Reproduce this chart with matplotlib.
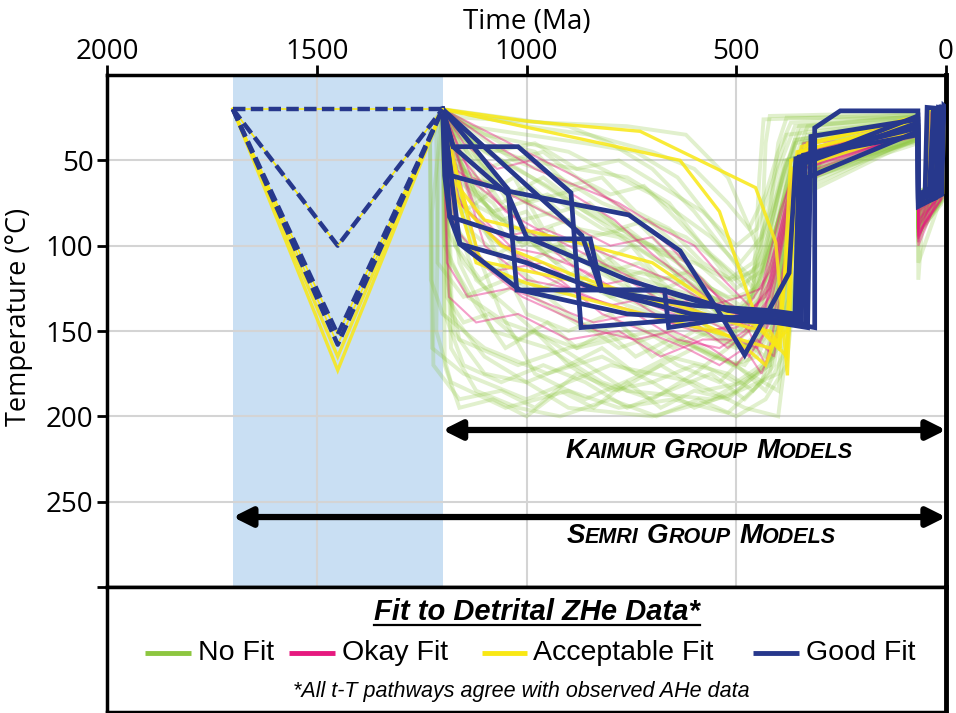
import matplotlib
matplotlib.use('Agg')
import matplotlib.pyplot as plt
from matplotlib.offsetbox import TextArea, HPacker, AnnotationBbox

plt.rcParams['font.family'] = ['Open Sans', 'DejaVu Sans']

GREEN = '#8dc63f'
PINK = '#e6197f'
YELLOW = '#f9e814'
BLUE = '#27388c'

# t-T pathways: (time Ma, temperature C)
semri_good = [
    [(1700, 20), (1200, 20)],
    [(1700, 20), (1450, 100), (1200, 20)],
    [(1700, 20), (1450, 152), (1200, 20)],
    [(1700, 20), (1450, 158), (1200, 20)],
]
semri_acceptable = [
    [(1700, 20), (1450, 165), (1200, 20)],
    [(1700, 20), (1450, 173), (1200, 20)],
]

kaimur_good = [
    [(1200, 20), (1175, 42), (1020, 42), (894, 69), (870, 148), (560, 142), (345, 144), (335, 50), (67, 24), (66, 74), (40, 70), (30, 20), (0, 20)],
    [(1200, 20), (1179, 59), (1045, 68), (756, 82), (634, 103), (541, 139), (480, 164), (374, 116), (358, 49), (67, 30), (66, 72), (20, 68), (12, 19), (0, 20)],
    [(1200, 20), (1183, 83), (1159, 99), (1016, 126), (760, 140), (560, 143), (335, 146), (330, 60), (67, 33), (66, 77), (10, 70), (5, 18), (0, 19)],
    [(1200, 20), (1044, 67), (1023, 126), (821, 126), (671, 126), (661, 148), (450, 140), (348, 142), (342, 52), (67, 28), (66, 70), (35, 66), (25, 20), (0, 21)],
    [(1200, 20), (868, 94), (822, 126), (673, 126), (480, 140), (313, 148), (313, 31), (252, 21), (67, 21), (66, 75), (50, 70), (45, 19), (0, 20)],
    [(1200, 20), (1195, 59), (1183, 83), (1020, 96), (848, 96), (821, 126), (600, 135), (420, 138), (360, 140), (350, 48), (67, 35), (66, 73), (15, 69), (8, 20), (0, 22)],
    [(1200, 20), (1159, 99), (1000, 110), (840, 125), (609, 140), (430, 144), (330, 148), (322, 36), (67, 26), (66, 76), (25, 72), (18, 19), (0, 20)],
    [(1200, 20), (1175, 42), (1044, 70), (1000, 95), (760, 120), (520, 138), (400, 141), (352, 140), (340, 47), (67, 31), (66, 71), (28, 67), (3, 20), (0, 21)],
]

kaimur_acceptable = [
    [(1200, 20), (1000, 27), (729, 33), (454, 66), (406, 98), (378, 176), (360, 60), (330, 40), (67, 25), (66, 72), (30, 68), (20, 20), (0, 20)],
    [(1200, 20), (1154, 71), (1110, 109), (900, 120), (640, 135), (470, 148), (420, 150), (395, 160), (370, 50), (67, 30), (66, 74), (12, 70), (6, 20), (0, 21)],
    [(1200, 20), (634, 50), (540, 80), (470, 130), (440, 150), (400, 160), (385, 120), (355, 45), (67, 28), (66, 70), (40, 67), (32, 21), (0, 20)],
    [(1200, 20), (1180, 60), (1100, 85), (850, 100), (700, 110), (520, 140), (440, 148), (380, 165), (365, 55), (67, 32), (66, 76), (22, 71), (14, 20), (0, 22)],
    [(1200, 20), (1185, 55), (1120, 110), (1000, 122), (800, 135), (560, 150), (420, 160), (380, 150), (350, 45), (67, 26), (66, 73), (8, 69), (4, 20), (0, 20)],
    [(1200, 20), (1190, 40), (1140, 80), (1060, 100), (880, 118), (700, 132), (500, 155), (430, 170), (400, 150), (345, 42), (67, 24), (66, 75), (48, 70), (42, 20), (0, 21)],
]

kaimur_okay = [
    [(1200, 20), (1180, 70), (1100, 90), (980, 115), (860, 130), (720, 140), (600, 150), (500, 148), (460, 140), (420, 120), (380, 80), (340, 50), (67, 33), (66, 90), (30, 74), (24, 24), (0, 23)],
    [(1200, 20), (1150, 50), (1050, 80), (940, 95), (820, 110), (700, 125), (580, 140), (500, 145), (450, 135), (400, 95), (360, 55), (67, 30), (66, 85), (16, 72), (10, 23), (0, 22)],
    [(1200, 20), (1190, 110), (1140, 130), (1040, 125), (940, 135), (840, 145), (740, 140), (640, 155), (540, 160), (480, 150), (420, 130), (370, 70), (330, 40), (67, 35), (66, 98), (40, 75), (33, 25), (0, 24)],
    [(1200, 20), (1000, 45), (880, 60), (760, 80), (660, 100), (580, 120), (510, 140), (470, 150), (430, 135), (390, 90), (350, 45), (67, 28), (66, 80), (22, 70), (15, 22), (0, 22)],
    [(1200, 20), (1170, 90), (1080, 115), (960, 110), (860, 125), (760, 120), (660, 135), (580, 130), (500, 140), (440, 145), (400, 110), (360, 60), (67, 32), (66, 92), (8, 72), (4, 24), (0, 23)],
    [(1200, 20), (1130, 60), (1040, 70), (920, 85), (800, 100), (700, 95), (620, 115), (540, 130), (480, 140), (430, 130), (380, 75), (340, 45), (67, 30), (66, 86), (35, 73), (28, 23), (0, 22)],
    [(1200, 20), (1185, 130), (1120, 145), (1020, 140), (900, 155), (780, 150), (680, 165), (580, 155), (500, 155), (450, 160), (410, 140), (370, 90), (330, 50), (67, 36), (66, 100), (26, 76), (18, 25), (0, 24)],
    [(1200, 20), (1080, 40), (980, 55), (880, 65), (780, 75), (680, 90), (600, 100), (530, 120), (470, 135), (420, 115), (380, 70), (340, 40), (67, 27), (66, 82), (45, 70), (38, 22), (0, 22)],
    [(1200, 20), (1160, 75), (1060, 100), (960, 105), (860, 115), (760, 130), (660, 145), (560, 150), (490, 145), (440, 150), (390, 120), (355, 70), (320, 42), (67, 33), (66, 94), (12, 73), (6, 24), (0, 23)],
    [(1200, 20), (1195, 60), (1140, 80), (1060, 95), (960, 90), (860, 100), (760, 110), (660, 120), (560, 135), (490, 130), (440, 125), (395, 80), (350, 48), (67, 31), (66, 88), (20, 72), (14, 23), (0, 22)],
    [(1200, 20), (1100, 100), (1000, 120), (900, 125), (800, 135), (700, 130), (600, 140), (520, 150), (470, 165), (430, 150), (390, 100), (345, 55), (67, 34), (66, 96), (32, 75), (26, 24), (0, 23)],
    [(1200, 20), (1150, 40), (1070, 55), (990, 50), (890, 70), (790, 85), (700, 105), (620, 120), (550, 135), (480, 142), (420, 125), (380, 85), (340, 45), (67, 29), (66, 84), (38, 71), (30, 22), (0, 22)],
    [(1200, 20), (1120, 80), (1020, 105), (920, 120), (820, 140), (720, 150), (620, 160), (540, 170), (480, 160), (440, 175), (400, 150), (370, 100), (335, 55), (67, 34), (66, 95), (24, 74), (18, 24), (0, 23)],
    [(1200, 20), (1170, 55), (1090, 70), (1000, 90), (900, 110), (800, 125), (700, 135), (600, 145), (520, 160), (470, 150), (430, 170), (395, 130), (360, 65), (67, 31), (66, 90), (42, 72), (35, 23), (0, 22)],
    [(1200, 20), (1110, 110), (1010, 130), (920, 140), (830, 150), (740, 155), (650, 150), (560, 160), (500, 170), (450, 155), (410, 165), (380, 110), (345, 55), (67, 33), (66, 92), (14, 73), (8, 24), (0, 23)],
]

kaimur_nofit = [
    [(1200, 20), (1190, 70), (1120, 120), (980, 150), (760, 185), (560, 190), (420, 170), (380, 110), (330, 60), (250, 40), (67, 32), (66, 80), (30, 72), (25, 24), (0, 24)],
    [(1200, 20), (1180, 140), (1100, 165), (900, 195), (700, 200), (520, 188), (400, 175), (360, 90), (310, 55), (67, 38), (66, 88), (15, 75), (8, 25), (0, 22)],
    [(1200, 20), (1160, 50), (1050, 95), (850, 110), (650, 120), (470, 140), (430, 120), (370, 80), (300, 45), (67, 30), (66, 78), (45, 70), (38, 22), (0, 23)],
    [(1200, 20), (1230, 40), (1225, 160), (1150, 175), (1000, 190), (800, 170), (600, 180), (480, 195), (400, 200), (370, 140), (330, 70), (290, 45), (67, 35), (66, 85), (20, 74), (12, 25), (0, 24)],
    [(1200, 20), (1100, 35), (900, 45), (700, 70), (560, 95), (460, 120), (420, 100), (380, 70), (350, 45), (67, 28), (66, 72), (50, 68), (40, 21), (0, 22)],
    [(1200, 20), (1195, 100), (1140, 130), (1050, 145), (880, 160), (700, 150), (540, 165), (470, 175), (400, 185), (380, 150), (350, 100), (320, 60), (67, 40), (66, 95), (25, 78), (18, 26), (0, 25)],
    [(1200, 20), (1150, 25), (950, 28), (760, 30), (620, 35), (520, 60), (450, 100), (420, 80), (400, 40), (380, 25), (67, 25), (66, 70), (35, 66), (28, 20), (0, 21)],
    [(1200, 20), (1185, 85), (1100, 110), (960, 130), (820, 125), (680, 140), (560, 150), (470, 150), (420, 140), (380, 100), (340, 60), (67, 33), (66, 82), (10, 73), (5, 24), (0, 23)],
    [(1200, 20), (1210, 60), (1215, 150), (1180, 180), (1050, 195), (900, 185), (780, 195), (650, 190), (520, 198), (440, 180), (360, 120), (320, 65), (67, 36), (66, 90), (40, 76), (32, 25), (0, 24)],
    [(1200, 20), (1170, 60), (1080, 80), (950, 70), (820, 90), (700, 100), (600, 130), (500, 145), (440, 130), (390, 75), (360, 40), (67, 27), (66, 74), (22, 70), (15, 22), (0, 22)],
    [(1200, 20), (1140, 90), (1060, 140), (980, 175), (860, 190), (720, 175), (600, 160), (500, 170), (430, 185), (380, 160), (340, 90), (300, 50), (67, 34), (66, 84), (28, 74), (20, 25), (0, 23)],
    [(1200, 20), (1100, 55), (1000, 75), (850, 65), (760, 80), (640, 110), (560, 130), (480, 138), (430, 110), (375, 65), (330, 35), (67, 26), (66, 76), (45, 70), (36, 21), (0, 21)],
    [(1200, 20), (1190, 120), (1160, 155), (1020, 170), (900, 160), (760, 150), (640, 170), (540, 180), (460, 160), (400, 130), (360, 70), (320, 40), (67, 31), (66, 79), (18, 71), (10, 23), (0, 22)],
    [(1200, 20), (1050, 25), (900, 30), (800, 40), (700, 55), (600, 80), (520, 105), (460, 125), (410, 95), (370, 55), (330, 30), (67, 24), (66, 68), (40, 66), (30, 20), (0, 20)],
    [(1200, 20), (1230, 30), (1228, 120), (1200, 140), (1100, 160), (950, 175), (820, 165), (700, 180), (600, 195), (500, 185), (420, 170), (390, 110), (350, 60), (67, 38), (66, 92), (12, 76), (6, 26), (0, 24)],
    [(1200, 20), (1175, 45), (1130, 75), (1020, 90), (900, 105), (780, 115), (660, 125), (560, 140), (470, 145), (410, 120), (370, 70), (330, 45), (67, 30), (66, 77), (33, 70), (26, 22), (0, 22)],
    [(1200, 20), (1160, 110), (1080, 150), (950, 160), (820, 180), (700, 190), (600, 175), (520, 160), (470, 150), (420, 135), (380, 90), (340, 50), (67, 35), (66, 86), (24, 73), (16, 24), (0, 23)],
    [(1200, 20), (1120, 40), (1000, 50), (880, 55), (760, 60), (660, 75), (580, 100), (500, 125), (440, 115), (390, 60), (350, 30), (67, 25), (66, 72), (48, 68), (42, 21), (0, 22)],
    [(1200, 20), (1190, 90), (1150, 110), (1080, 130), (1000, 120), (900, 140), (780, 160), (660, 150), (560, 165), (480, 170), (420, 150), (380, 120), (345, 65), (67, 37), (66, 88), (8, 74), (4, 25), (0, 24)],
    [(1200, 20), (1080, 60), (980, 100), (880, 120), (760, 135), (640, 145), (540, 155), (460, 160), (410, 140), (375, 80), (340, 40), (67, 29), (66, 75), (28, 70), (22, 22), (0, 22)],
    [(1200, 20), (1140, 30), (1000, 35), (860, 40), (740, 45), (640, 60), (560, 85), (490, 110), (440, 95), (400, 55), (360, 30), (67, 24), (66, 70), (38, 67), (30, 21), (0, 21)],
    [(1200, 20), (1180, 160), (1120, 185), (1020, 195), (920, 200), (800, 190), (690, 200), (590, 190), (500, 200), (430, 190), (380, 170), (350, 100), (310, 55), (67, 39), (66, 94), (20, 77), (14, 26), (0, 25)],
    [(1200, 20), (1165, 70), (1090, 95), (1000, 110), (920, 100), (830, 115), (720, 130), (620, 120), (530, 135), (460, 140), (410, 110), (365, 60), (320, 35), (67, 28), (66, 73), (42, 69), (35, 21), (0, 22)],
    [(1200, 20), (1030, 50), (920, 60), (820, 75), (720, 85), (620, 95), (540, 110), (480, 125), (430, 100), (385, 55), (345, 32), (67, 26), (66, 71), (26, 68), (18, 22), (0, 21)],
    [(1200, 20), (1195, 140), (1150, 170), (1060, 180), (960, 170), (860, 180), (760, 195), (660, 185), (560, 175), (480, 190), (420, 175), (370, 110), (330, 60), (67, 36), (66, 89), (30, 75), (22, 25), (0, 24)],
    [(1200, 20), (1150, 60), (1060, 65), (960, 80), (880, 90), (780, 95), (680, 110), (600, 120), (520, 130), (460, 130), (420, 105), (380, 65), (340, 40), (67, 31), (66, 80), (14, 72), (8, 23), (0, 23)],
    [(1200, 20), (1100, 90), (1000, 140), (900, 150), (800, 140), (700, 165), (600, 150), (500, 160), (440, 155), (400, 125), (360, 75), (320, 45), (67, 33), (66, 83), (36, 72), (28, 24), (0, 23)],
    [(1200, 20), (1190, 50), (1120, 60), (1040, 70), (960, 60), (880, 75), (800, 85), (720, 100), (640, 105), (560, 125), (490, 135), (440, 120), (395, 70), (355, 38), (67, 27), (66, 74), (24, 69), (17, 22), (0, 21)],
    [(1200, 20), (1225, 80), (1222, 170), (1160, 190), (1060, 185), (980, 195), (880, 175), (780, 185), (680, 170), (580, 185), (480, 180), (410, 165), (375, 100), (335, 55), (67, 37), (66, 91), (18, 76), (10, 25), (0, 24)],
    [(1200, 20), (1120, 70), (1040, 90), (940, 95), (840, 100), (740, 120), (640, 135), (560, 145), (500, 150), (440, 140), (400, 100), (360, 55), (67, 32), (66, 81), (44, 71), (36, 23), (0, 22)],
    [(1200, 20), (1100, 45), (950, 65), (800, 90), (650, 115), (540, 135), (480, 145), (440, 100), (430, 40), (420, 24), (67, 22), (66, 68), (30, 65), (25, 20), (0, 20)],
    [(1200, 20), (1170, 35), (1020, 55), (860, 80), (700, 100), (580, 120), (500, 140), (460, 130), (445, 60), (435, 26), (67, 23), (66, 120), (50, 66), (44, 20), (0, 20)],
    [(1200, 20), (1215, 35), (1212, 110), (1150, 130), (1050, 120), (950, 135), (850, 150), (750, 145), (650, 160), (560, 150), (470, 160), (410, 130), (370, 85), (330, 48), (67, 33), (66, 80), (26, 72), (20, 23), (0, 23)],
    [(1200, 20), (1185, 30), (1080, 45), (980, 40), (880, 55), (780, 50), (680, 65), (580, 80), (500, 100), (450, 90), (410, 60), (380, 35), (67, 26), (66, 72), (36, 68), (30, 21), (0, 21)],
    [(1200, 20), (1170, 100), (1110, 120), (1040, 110), (960, 125), (880, 115), (800, 130), (720, 125), (640, 140), (560, 135), (490, 155), (430, 165), (390, 120), (350, 60), (67, 35), (66, 87), (14, 74), (8, 24), (0, 23)],
    [(1200, 20), (1150, 80), (1090, 70), (1010, 85), (930, 80), (850, 95), (760, 90), (680, 105), (600, 110), (520, 120), (460, 110), (415, 80), (380, 50), (67, 29), (66, 76), (40, 70), (33, 22), (0, 22)],
    [(1200, 20), (1195, 170), (1160, 195), (1080, 190), (1000, 200), (920, 185), (840, 195), (760, 180), (680, 195), (600, 185), (520, 190), (450, 175), (400, 160), (360, 110), (320, 60), (67, 38), (66, 92), (22, 76), (15, 25), (0, 24)],
    [(1200, 20), (1100, 70), (1030, 60), (960, 90), (900, 85), (820, 110), (750, 100), (680, 120), (610, 115), (540, 140), (480, 135), (430, 120), (390, 85), (350, 45), (67, 31), (66, 79), (18, 71), (12, 23), (0, 22)],
    [(1200, 20), (1160, 40), (1100, 55), (1040, 50), (960, 45), (880, 60), (800, 70), (720, 65), (640, 85), (560, 105), (490, 120), (440, 110), (400, 70), (360, 38), (67, 27), (66, 74), (46, 69), (40, 21), (0, 21)],
    [(1200, 20), (1180, 110), (1120, 135), (1050, 160), (980, 150), (900, 170), (820, 160), (740, 175), (660, 165), (580, 170), (500, 180), (440, 170), (395, 140), (360, 90), (320, 50), (67, 36), (66, 88), (32, 74), (25, 24), (0, 24)],
    [(1200, 20), (1130, 50), (1060, 75), (990, 65), (920, 80), (850, 75), (780, 90), (710, 85), (640, 100), (570, 115), (500, 130), (450, 125), (405, 90), (370, 55), (67, 30), (66, 78), (10, 72), (5, 23), (0, 22)],
    [(1200, 20), (1190, 60), (1140, 90), (1070, 105), (1000, 95), (930, 110), (860, 105), (790, 120), (720, 115), (650, 130), (580, 140), (510, 145), (450, 140), (400, 110), (360, 65), (67, 34), (66, 85), (28, 73), (21, 24), (0, 23)],
    [(1200, 20), (1000, 30), (850, 35), (700, 45), (600, 55), (520, 75), (470, 90), (430, 70), (400, 45), (370, 28), (67, 23), (66, 69), (42, 66), (36, 20), (0, 20)],
    [(1200, 20), (1175, 150), (1100, 175), (1000, 180), (900, 170), (800, 185), (700, 180), (600, 170), (520, 175), (460, 185), (410, 170), (375, 120), (340, 70), (67, 37), (66, 110), (16, 75), (10, 25), (0, 24)],
    [(1200, 20), (1170, 45), (1120, 70), (1060, 85), (1000, 80), (940, 100), (870, 95), (800, 115), (730, 110), (660, 125), (590, 130), (520, 145), (460, 150), (420, 130), (380, 80), (345, 45), (67, 30), (66, 80), (34, 71), (27, 22), (0, 22)],
    [(1200, 20), (1060, 40), (980, 45), (900, 65), (820, 60), (740, 80), (660, 90), (580, 110), (510, 120), (460, 115), (420, 85), (385, 50), (67, 28), (66, 75), (20, 69), (14, 22), (0, 21)],
    [(1200, 20), (1190, 130), (1150, 145), (1090, 140), (1020, 155), (950, 145), (880, 160), (810, 150), (740, 165), (660, 155), (580, 160), (510, 170), (450, 165), (400, 140), (365, 85), (330, 50), (67, 35), (66, 90), (38, 75), (31, 24), (0, 24)],
    [(1200, 20), (1140, 65), (1080, 75), (1010, 100), (940, 90), (870, 120), (800, 110), (720, 135), (640, 130), (560, 150), (490, 160), (440, 150), (400, 115), (360, 60), (67, 32), (66, 82), (6, 73), (3, 23), (0, 22)],
]

x_ticks = [2000, 1500, 1000, 500, 0]
y_ticks = [50, 100, 150, 200, 250, 300]
y_tick_labels = ['50', '100', '150', '200', '250', '']

kaimur_range = (1200, 0, 208)
semri_range = (1700, 0, 259)
legend_names = ['No Fit', 'Okay Fit', 'Acceptable Fit', 'Good Fit']
legend_colors = [GREEN, PINK, YELLOW, BLUE]


def draw_paths(ax, paths, **kw):
    for p in paths:
        t = [v[0] for v in p]
        T = [v[1] for v in p]
        ax.plot(t, T, solid_joinstyle='miter', **kw)


def small_caps(words, big, small):
    props = dict(family=['Liberation Sans', 'DejaVu Sans'], style='italic', weight='bold', color='black')
    boxes = []
    for w in words:
        a = TextArea(w[0], textprops=dict(size=big, **props))
        b = TextArea(w[1:].upper(), textprops=dict(size=small, **props))
        boxes.append(HPacker(children=[a, b], align='baseline', pad=0, sep=0))
    return HPacker(children=boxes, align='baseline', pad=0, sep=6)


fig = plt.figure(figsize=(9.56, 7.13), dpi=100)
ax = fig.add_axes([107 / 956, 1 - 587 / 713, 839 / 956, 512 / 713])

ax.axvspan(1700, 1200, color='#c9dff3', lw=0, zorder=0.2)

draw_paths(ax, kaimur_nofit, color=GREEN, lw=2.8, alpha=0.26, zorder=2)
draw_paths(ax, kaimur_okay, color=PINK, lw=1.5, alpha=0.42, zorder=3)
draw_paths(ax, kaimur_acceptable, color=YELLOW, lw=2.4, alpha=0.85, zorder=4)
draw_paths(ax, semri_acceptable, color=YELLOW, lw=2.4, alpha=0.85, zorder=4)
draw_paths(ax, kaimur_good, color=BLUE, lw=3.4, zorder=5)
draw_paths(ax, semri_good, color=YELLOW, lw=1.2, zorder=5)
draw_paths(ax, semri_good, color=BLUE, lw=3.2, ls=(0, (2.8, 1.2)), zorder=5.5)

for start, end, T in (kaimur_range, semri_range):
    ax.annotate('', xy=(end, T), xytext=(start, T),
                arrowprops=dict(arrowstyle='<|-|>', lw=4.5, color='black',
                                mutation_scale=28, shrinkA=0, shrinkB=0),
                zorder=6)

ax.add_artist(AnnotationBbox(small_caps(['Kaimur', 'Group', 'Models'], 20, 15.5),
                             (564, 220.5), frameon=False, pad=0,
                             box_alignment=(0.5, 0.5), zorder=6))
ax.add_artist(AnnotationBbox(small_caps(['Semri', 'Group', 'Models'], 20, 15.5),
                             (583, 270), frameon=False, pad=0,
                             box_alignment=(0.5, 0.5), zorder=6))

ax.set_xlim(2000, 0)
ax.set_ylim(300, 0)
ax.set_xticks(x_ticks)
ax.set_xticklabels([str(v) for v in x_ticks])
ax.set_yticks(y_ticks)
ax.set_yticklabels(y_tick_labels)
ax.xaxis.tick_top()
ax.xaxis.set_label_position('top')
ax.tick_params(axis='both', direction='out', length=7.2, width=2, labelsize=20,
               color='black')
ax.tick_params(axis='x', pad=-0.5)
ax.tick_params(axis='y', pad=2.5)
ax.set_xlabel('Time (Ma)', fontsize=20)
ax.xaxis.set_label_coords(0.5, 1.09)
ax.set_ylabel('Temperature (°C)', fontsize=19.5)
ax.yaxis.set_label_coords(-0.088, 0.528)

ax.set_axisbelow(True)
ax.grid(True, color='#d4d4d4', lw=1.5)
for side in ['top', 'left', 'right', 'bottom']:
    ax.spines[side].set_linewidth(2.5)
ax.spines['right'].set_linewidth(3.5)

# legend panel
lax = fig.add_axes([107 / 956, 1 / 713, 839 / 956, 125 / 713])
lax.set_xlim(0, 1)
lax.set_ylim(0, 1)
lax.set_xticks([])
lax.set_yticks([])
for side in ['top', 'left', 'bottom']:
    lax.spines[side].set_linewidth(2.5)
lax.spines['right'].set_linewidth(3.5)

title = lax.text(0.513, 0.80, 'Fit to Detrital ZHe Data*', ha='center', va='center',
                 fontsize=21, style='italic', weight='bold',
                 family=['Liberation Sans', 'DejaVu Sans'])
fig.canvas.draw()
bb = title.get_window_extent().transformed(lax.transAxes.inverted())
lax.plot([bb.x0, bb.x1], [0.70, 0.70], color='black', lw=1.6)

line_x = [(0.045, 0.100), (0.217, 0.272), (0.447, 0.500), (0.770, 0.825)]
for (x0, x1), name, col in zip(line_x, legend_names, legend_colors):
    lax.plot([x0, x1], [0.47, 0.47], color=col, lw=3.5, solid_capstyle='butt')
    lax.text(x1 + 0.008, 0.47, name, ha='left', va='center', fontsize=20.5,
             family=['Liberation Sans', 'DejaVu Sans'])

lax.text(0.494, 0.16, '*All t-T pathways agree with observed AHe data', ha='center',
         va='center', fontsize=15.5, style='italic',
         family=['Liberation Sans', 'DejaVu Sans'])

fig.savefig('out.png', dpi=100)
